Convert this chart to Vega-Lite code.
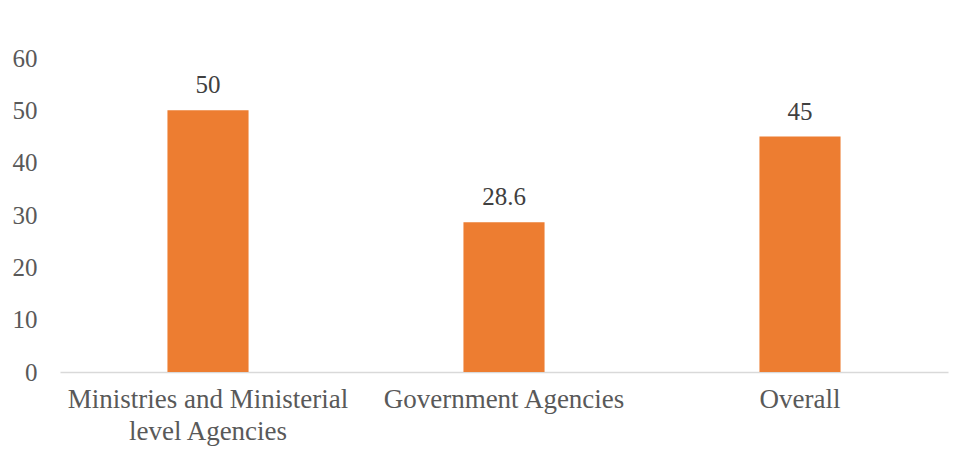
{
  "$schema": "https://vega.github.io/schema/vega-lite/v6.json",
  "width": 888,
  "height": 314,
  "autosize": {"type": "none"},
  "padding": {"left": 60, "top": 58, "right": 18, "bottom": 95},
  "background": "white",
  "config": {"view": {"stroke": null}, "font": "Liberation Serif"},
  "data": {"values": [
    {"category": "Ministries and Ministerial level Agencies", "value": 50},
    {"category": "Government Agencies", "value": 28.6},
    {"category": "Overall", "value": 45}
  ]},
  "encoding": {
    "x": {"field": "category", "type": "nominal", "sort": null, "title": null,
      "scale": {"paddingInner": 0.726, "paddingOuter": 0.363},
      "axis": {"labelAngle": 0, "labelFont": "Liberation Serif", "labelFontSize": 27, "labelColor": "#595959", "labelLimit": 500,
        "ticks": false, "domainColor": "#D9D9D9", "domainWidth": 1.5, "labelPadding": 14, "labelLineHeight": 32,
        "labelExpr": "datum.label == 'Ministries and Ministerial level Agencies' ? ['Ministries and Ministerial', 'level Agencies'] : datum.label"}},
    "y": {"field": "value", "type": "quantitative", "title": null,
      "scale": {"domain": [0, 60], "nice": false},
      "axis": {"values": [0, 10, 20, 30, 40, 50, 60], "grid": false, "domain": false, "ticks": false,
        "labelFont": "Liberation Serif", "labelFontSize": 25, "labelColor": "#595959", "labelPadding": 23}}
  },
  "layer": [
    {"mark": {"type": "bar", "color": "#ED7D31"}},
    {"mark": {"type": "text", "baseline": "alphabetic", "dy": -17, "fontSize": 25, "font": "Liberation Serif", "color": "#404040"},
     "encoding": {"text": {"field": "value", "type": "quantitative"}}}
  ]
}
